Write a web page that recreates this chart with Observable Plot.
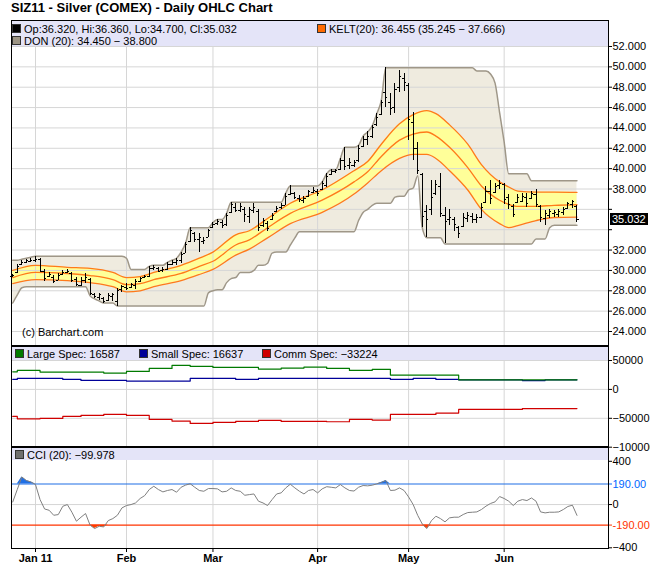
<!DOCTYPE html>
<html><head><meta charset="utf-8">
<script src="https://cdn.jsdelivr.net/npm/d3@7"></script>
<script src="https://cdn.jsdelivr.net/npm/@observablehq/plot@0.6"></script>
<style>
body{margin:0;background:#fff;}
#root{position:relative;width:650px;height:588px;overflow:hidden;background:#fff;font-family:"Liberation Sans",Arial,sans-serif;font-size:11px;color:#000;}
.layer{position:absolute;left:0;}
.band{position:absolute;left:12px;width:596px;background:#e4e4f8;z-index:2;}
.leg{position:absolute;font-size:11px;line-height:12px;white-space:nowrap;z-index:3;}
.sq{display:inline-block;width:7px;height:7px;border:1px solid #333;margin-right:3px;}
.sep{position:absolute;left:11px;width:598px;background:#000;z-index:4;}
</style></head><body>
<div id="root">
  <div class="leg" style="left:11px;top:1px;font-size:13px;line-height:13px;font-weight:bold;">SIZ11 - Silver (COMEX) - Daily OHLC Chart</div>
  <div class="band" style="top:21px;height:25px;"></div>
  <div class="leg" id="legOHLC" style="left:12px;top:23px;"></div>
  <div class="leg" id="legKELT" style="left:317px;top:23px;"></div>
  <div class="leg" id="legDON" style="left:12px;top:35px;"></div>
  <div class="leg" style="left:22px;top:326px;">(c) Barchart.com</div>
  <div class="sep" style="top:345px;height:2px;"></div>
  <div class="band" style="top:347px;height:13px;"></div>
  <div class="leg" id="legCOT" style="left:15px;top:348px;"></div>
  <div class="sep" style="top:446px;height:2px;"></div>
  <div class="band" style="top:448px;height:12px;"></div>
  <div class="leg" id="legCCI" style="left:15px;top:449px;"></div>
</div>
<script>
// ---------- data ----------
const startIndex = -5; // first bar = Dec 27 2010, index 0 = Jan 3 2011 (trading-day index)
const opens = [
 29.4, 29.8, 30.6, 30.8, 30.9, 31.0, 31.1, 29.9, 29.4, 29.3,
 29.0, 29.6, 29.8, 29.7, 29.1, 28.5, 29.0, 29.1, 27.6, 27.3,
 27.2, 27.0, 27.4, 26.9, 28.1, 28.3, 28.3, 28.5, 28.9, 29.3,
 29.4, 30.2, 30.2, 30.0, 30.1, 30.6, 30.8, 31.0, 31.7, 32.8,
 33.6, 33.0, 32.8, 33.2, 34.2, 34.6, 34.7, 34.5, 35.7, 36.2,
 35.9, 36.0, 35.3, 35.9, 35.8, 34.4, 34.6, 35.0, 35.8, 36.2,
 36.4, 37.5, 37.6, 37.1, 36.9, 37.3, 37.7, 37.8, 38.0, 38.3,
 39.4, 39.7, 39.9, 40.8, 40.3, 40.3, 40.8, 42.2, 42.9, 43.2,
 44.3, 45.3, 47.5, 46.5, 46.0, 48.0, 48.9, 48.2, 44.5, 42.0,
 39.4, 35.8, 36.0, 37.6, 38.2, 35.4, 35.0, 35.0, 34.2, 34.3,
 35.1, 35.3, 35.0, 35.2, 36.7, 37.8, 37.7, 38.3, 38.4, 37.2,
 36.3, 36.7, 36.8, 37.2, 37.1, 37.5, 36.3, 35.1, 35.4, 35.6,
 35.5, 35.7, 36.1, 36.5, 36.32
];
const highs = [
 29.6, 30.6, 31.0, 31.1, 31.2, 31.4, 31.2, 30.1, 29.8, 29.5,
 29.7, 30.0, 30.1, 29.8, 29.3, 29.3, 29.7, 29.2, 27.7, 27.7,
 27.3, 27.7, 27.7, 28.2, 28.5, 28.7, 28.7, 29.1, 29.3, 29.5,
 30.4, 30.5, 30.3, 30.3, 30.8, 31.0, 31.2, 31.8, 32.7, 34.2,
 33.7, 33.6, 33.2, 34.0, 34.7, 35.0, 34.9, 35.6, 36.7, 36.6,
 36.6, 36.2, 36.2, 36.6, 36.0, 35.1, 34.8, 35.6, 36.3, 36.6,
 37.6, 38.3, 37.7, 37.4, 37.3, 37.9, 38.1, 38.0, 38.7, 39.5,
 39.9, 39.9, 41.0, 42.1, 41.0, 40.8, 42.3, 43.2, 43.6, 44.2,
 45.4, 46.7, 49.9, 47.4, 48.4, 49.6, 49.3, 48.4, 45.5, 42.6,
 39.5, 36.4, 38.8, 38.8, 39.5, 36.2, 36.0, 35.2, 34.3, 35.6,
 35.7, 35.6, 35.5, 36.6, 38.2, 38.8, 38.5, 38.8, 38.5, 37.5,
 36.5, 37.5, 37.6, 37.6, 37.8, 38.0, 36.4, 35.9, 36.0, 35.9,
 36.0, 36.2, 36.7, 36.9, 36.36
];
const lows = [
 29.3, 29.7, 30.5, 30.7, 30.8, 30.8, 29.8, 28.9, 29.3, 28.7,
 29.0, 29.5, 29.7, 28.8, 28.4, 28.4, 28.7, 27.5, 27.2, 27.0,
 26.8, 26.9, 26.9, 26.5, 27.8, 28.0, 28.2, 28.1, 28.8, 29.2,
 29.3, 30.0, 29.8, 29.8, 30.0, 30.5, 30.5, 30.7, 31.7, 32.7,
 32.7, 31.8, 32.5, 33.2, 34.1, 34.4, 34.1, 34.3, 35.6, 35.7,
 35.7, 34.7, 34.6, 35.6, 33.8, 34.2, 33.8, 34.9, 35.7, 36.0,
 36.4, 37.4, 37.0, 36.7, 36.6, 37.2, 37.6, 37.3, 37.9, 38.1,
 39.3, 39.5, 39.8, 39.8, 39.9, 40.1, 40.6, 42.1, 42.3, 43.0,
 44.1, 45.2, 46.0, 45.2, 45.4, 47.5, 47.6, 42.8, 40.8, 39.4,
 34.2, 33.2, 35.4, 37.4, 35.2, 32.6, 34.4, 33.8, 33.1, 34.2,
 34.7, 34.6, 34.6, 35.1, 36.6, 36.5, 37.6, 38.0, 36.5, 36.0,
 35.2, 36.6, 36.7, 36.2, 37.0, 36.2, 34.7, 34.45, 35.1, 35.2,
 35.2, 35.4, 36.0, 36.1, 34.70
];
const closes = [
 29.5, 30.4, 30.8, 31.0, 31.0, 31.1, 29.9, 29.2, 29.6, 28.9,
 29.5, 29.8, 29.9, 29.0, 28.6, 29.0, 29.3, 27.7, 27.4, 27.6,
 26.9, 27.5, 27.6, 28.0, 28.4, 28.2, 28.6, 28.9, 29.2, 29.4,
 30.2, 30.3, 29.9, 30.1, 30.6, 30.8, 31.0, 31.6, 32.5, 33.9,
 33.0, 33.2, 32.9, 33.9, 34.5, 34.8, 34.4, 35.4, 36.5, 35.9,
 36.3, 35.5, 36.0, 36.2, 34.2, 34.9, 34.1, 35.4, 36.1, 36.4,
 37.3, 37.6, 37.2, 37.0, 37.1, 37.8, 37.9, 37.6, 38.5, 39.2,
 39.7, 39.8, 40.8, 40.2, 40.6, 40.6, 42.0, 42.9, 43.2, 44.0,
 45.0, 46.5, 47.0, 45.9, 47.8, 49.1, 48.5, 44.8, 42.0, 39.8,
 35.3, 35.0, 37.2, 38.4, 35.6, 34.8, 35.2, 34.5, 33.6, 35.2,
 35.4, 35.0, 35.2, 36.2, 37.8, 37.1, 38.2, 38.5, 37.0, 36.5,
 35.5, 37.2, 37.3, 36.6, 37.6, 36.5, 35.2, 35.6, 35.8, 35.7,
 35.8, 36.0, 36.6, 36.8, 35.032
];
const donUpper = [
 31.0, 31.0, 31.1, 31.2, 31.3, 31.4, 31.4, 31.4, 31.4, 31.4,
 31.4, 31.4, 31.4, 31.4, 31.4, 31.4, 31.4, 31.4, 31.4, 31.4,
 31.4, 31.4, 31.4, 31.4, 31.4, 31.2, 30.1, 30.1, 30.1, 30.1,
 30.4, 30.5, 30.5, 30.5, 30.8, 31.0, 31.2, 31.8, 32.7, 34.2,
 34.2, 34.2, 34.2, 34.2, 34.7, 35.0, 35.0, 35.6, 36.7, 36.7,
 36.7, 36.7, 36.7, 36.7, 36.7, 36.7, 36.7, 36.7, 36.7, 36.7,
 37.6, 38.3, 38.3, 38.3, 38.3, 38.3, 38.3, 38.3, 38.7, 39.5,
 39.9, 39.9, 41.0, 42.1, 42.1, 42.1, 42.3, 43.2, 43.6, 44.2,
 45.4, 46.7, 49.9, 49.9, 49.9, 49.9, 49.9, 49.9, 49.9, 49.9,
 49.9, 49.9, 49.9, 49.9, 49.9, 49.9, 49.9, 49.9, 49.9, 49.9,
 49.9, 49.9, 49.6, 49.6, 49.6, 49.3, 48.4, 45.5, 42.6, 39.5,
 39.5, 39.5, 39.5, 39.5, 38.8, 38.8, 38.8, 38.8, 38.8, 38.8,
 38.8, 38.8, 38.8, 38.8, 38.8
];
const donLower = [
 26.8, 27.6, 28.3, 28.4, 28.4, 28.4, 28.4, 28.4, 28.4, 28.4,
 28.4, 28.4, 28.4, 28.4, 28.4, 28.4, 28.4, 27.5, 27.2, 27.0,
 26.8, 26.8, 26.8, 26.5, 26.5, 26.5, 26.5, 26.5, 26.5, 26.5,
 26.5, 26.5, 26.5, 26.5, 26.5, 26.5, 26.5, 26.5, 26.5, 26.5,
 26.5, 26.5, 26.5, 27.8, 28.0, 28.1, 28.1, 28.8, 29.2, 29.3,
 29.8, 29.8, 29.8, 30.0, 30.5, 30.5, 30.7, 31.7, 31.8, 31.8,
 31.8, 32.5, 33.2, 33.8, 33.8, 33.8, 33.8, 33.8, 33.8, 33.8,
 33.8, 33.8, 33.8, 33.8, 33.8, 33.8, 34.9, 35.7, 36.0, 36.4,
 36.6, 36.6, 36.6, 36.6, 37.2, 37.3, 37.3, 37.9, 38.1, 39.3,
 34.2, 33.2, 33.2, 33.2, 33.2, 32.6, 32.6, 32.6, 32.6, 32.6,
 32.6, 32.6, 32.6, 32.6, 32.6, 32.6, 32.6, 32.6, 32.6, 32.6,
 32.6, 32.6, 32.6, 32.6, 32.6, 33.1, 33.1, 33.1, 34.2, 34.45,
 34.45, 34.45, 34.45, 34.45, 34.45
];
const keltIdx   = [-5, 0, 7, 12, 17, 20, 23, 26, 32, 36, 39, 44, 47, 51, 56, 63, 70, 73, 76, 80, 83, 86, 88, 91, 95, 98, 102, 104, 106, 110, 114, 119];
const keltLower = [28.7, 29.1, 29.0, 28.8, 28.4, 27.9, 28.0, 28.4, 29.0, 29.6, 30.1, 31.5, 32.1, 33.2, 34.6, 35.7, 37.5, 38.6, 39.8, 41.0, 41.4, 41.4, 41.0, 39.8, 37.9, 36.0, 34.6, 34.2, 34.4, 34.9, 35.2, 35.245];
const keltMid   = [29.3, 29.8, 29.7, 29.5, 29.1, 28.6, 28.7, 29.1, 29.7, 30.4, 30.9, 32.5, 33.0, 34.2, 35.6, 36.9, 38.7, 39.7, 41.2, 42.8, 43.4, 43.6, 43.2, 42.1, 40.1, 38.3, 36.9, 36.5, 36.3, 36.3, 36.4, 36.455];
const keltUpper = [30.0, 30.5, 30.3, 30.2, 29.8, 29.3, 29.4, 29.8, 30.5, 31.2, 31.8, 33.5, 33.9, 35.1, 36.6, 37.9, 39.8, 40.7, 42.4, 44.4, 45.3, 45.7, 45.4, 44.3, 42.4, 40.4, 38.7, 38.2, 37.8, 37.7, 37.7, 37.666];

const cotIdx    = [-5, -4, 1, 6, 10, 15, 20, 25, 30, 34, 39, 44, 49, 54, 59, 64, 69, 74, 78, 83, 88, 93, 98, 103, 107, 112, 119];
const largeSpec = [30400, 32900, 29900, 29900, 29900, 28200, 31100, 36300, 41500, 39800, 38100, 38100, 35100, 36900, 38600, 36300, 32900, 34600, 24700, 24700, 24700, 16600, 16600, 16600, 16600, 16600, 16587];
const smallSpec = [17300, 19000, 19000, 17300, 15600, 15600, 14400, 14400, 14400, 19000, 19000, 17300, 19000, 19000, 19000, 19000, 19000, 19000, 17300, 19000, 17300, 16600, 16600, 16600, 15300, 16637, 16637];
const commSpec  = [-46700, -50900, -50300, -46700, -45000, -43300, -45000, -51900, -54800, -58800, -57100, -55400, -53600, -55400, -55400, -56000, -51900, -53100, -43300, -43300, -41000, -34600, -34600, -34600, -33224, -33224, -33224];

const cciValues = [
 24, 140, 255, 222, 209, 185, 46, -41, -53, -99,
 -93, -16, 0, -71, -154, -117, -83, -191, -222, -201,
 -207, -148, -130, -99, -31, -9, 0, 15, 56, 83,
 139, 169, 139, 117, 130, 139, 114, 160, 180, 192,
 160, 130, 123, 148, 148, 145, 117, 123, 154, 130,
 123, 86, 92, 98, 31, 15, -9, 46, 98, 108,
 154, 188, 154, 123, 98, 130, 139, 108, 145, 165,
 160, 154, 185, 154, 130, 125, 160, 176, 173, 179,
 191, 205, 222, 130, 133, 154, 130, 70, 0, -100,
 -180, -222, -150, -108, -130, -160, -123, -117, -117, -92,
 -74, -71, -68, -46, -15, 10, 25, 74, 56, 31,
 -9, 31, 46, 37, 61, 31, -68, -77, -71, -71,
 -68, -46, -18, -6, -99.978
];

const monthTicks  = [0, 20, 39, 62, 82, 103];
const monthLabels = ["Jan 11", "Feb", "Mar", "Apr", "May", "Jun"];
const priceTicks  = [24, 26, 28, 30, 32, 34, 36, 38, 40, 42, 44, 46, 48, 50, 52];
const cotTicks    = [50000, 0, -50000, -100000];
const cciTicks    = [400, 0, -400];
const cciLevels   = [190, -190];

// ---------- tables ----------
const bars = opens.map((o, k) => ({
  i: startIndex + k, open: o, high: highs[k], low: lows[k], close: closes[k],
  donHi: donUpper[k], donLo: donLower[k], cci: cciValues[k]
}));
const kelt = keltIdx.map((i, k) => ({i, lo: keltLower[k], mid: keltMid[k], hi: keltUpper[k]}));
const cot = cotIdx.map((i, k) => ({i, large: largeSpec[k], small: smallSpec[k], comm: commSpec[k]}));
const last = bars[bars.length - 1];
const lastK = kelt[kelt.length - 1];
const lastC = cot[cot.length - 1];

// ---------- legends ----------
const sq = c => `<span class="sq" style="background:${c}"></span>`;
const f3 = v => v.toFixed(3);
document.getElementById("legOHLC").innerHTML = sq("#000") + `Op:${f3(last.open)}, Hi:${f3(last.high)}, Lo:${f3(last.low)}, Cl:${f3(last.close)}`;
document.getElementById("legKELT").innerHTML = sq("#ff6a00") + `KELT(20): ${f3(lastK.mid)} (${f3(lastK.lo)} − ${f3(lastK.hi)})`;
document.getElementById("legDON").innerHTML = sq("#9c9484") + `DON (20): ${f3(last.donLo)} − ${f3(last.donHi)}`;
document.getElementById("legCOT").innerHTML =
  sq("#007a00") + `Large Spec: ${lastC.large}` +
  `<span style="position:absolute;left:124px">${sq("#000099")}Small Spec: ${lastC.small}</span>` +
  `<span style="position:absolute;left:247px">${sq("#d00000")}Comm Spec: ${String(lastC.comm).replace("-", "−")}</span>`;
document.getElementById("legCCI").innerHTML = sq("#6e6e6e") + `CCI (20): ${String(last.cci.toFixed(3)).replace("-", "−")}`;

// ---------- plots ----------
const font = '"Liberation Sans", Arial, sans-serif';
const common = {
  width: 650, marginLeft: 11, marginRight: 42,
  style: {background: "transparent", fontFamily: font, fontSize: "11px", overflow: "visible", color: "#000"},
  x: {domain: [-5.275, 125.93], axis: null}
};
const grid = "#d6d6d6";
const root = document.getElementById("root");
function place(svg, top, z) {
  const d = document.createElement("div");
  d.className = "layer";
  d.style.top = top + "px";
  d.style.zIndex = z;
  d.appendChild(svg);
  root.appendChild(d);
}

const pricePlot = Plot.plot({
  ...common, height: 325, marginTop: 0, marginBottom: 0,
  y: {domain: [22.625, 54.554], axis: null},
  marks: [
    Plot.areaY(bars, {x: "i", y1: "donLo", y2: "donHi", fill: "#efebdf", curve: "monotone-x"}),
    Plot.areaY(kelt, {x: "i", y1: "lo", y2: "hi", fill: "#ffff99", curve: "monotone-x"}),
    Plot.gridX(monthTicks, {stroke: grid, strokeOpacity: 1}),
    Plot.gridY(priceTicks, {stroke: grid, strokeOpacity: 1}),
    Plot.line(bars, {x: "i", y: "donHi", stroke: "#9f9788", curve: "monotone-x"}),
    Plot.line(bars, {x: "i", y: "donLo", stroke: "#9f9788", curve: "monotone-x"}),
    Plot.line(kelt, {x: "i", y: "hi", stroke: "#ff7a1a", strokeWidth: 1.3, curve: "monotone-x"}),
    Plot.line(kelt, {x: "i", y: "mid", stroke: "#ff7a1a", strokeWidth: 1.3, curve: "monotone-x"}),
    Plot.line(kelt, {x: "i", y: "lo", stroke: "#ff7a1a", strokeWidth: 1.3, curve: "monotone-x"}),
    Plot.ruleX(bars, {x: "i", y1: "low", y2: "high", stroke: "#000", shapeRendering: "crispEdges"}),
    Plot.ruleY(bars, {y: "open", x1: d => d.i - 0.45, x2: "i", stroke: "#000", shapeRendering: "crispEdges"}),
    Plot.ruleY(bars, {y: "close", x1: "i", x2: d => d.i + 0.45, stroke: "#000", shapeRendering: "crispEdges"}),
    Plot.frame({stroke: "#000"}),
    Plot.axisY({ticks: priceTicks, anchor: "right", tickSize: 3, tickPadding: 1, label: null,
      tickFormat: d => Math.abs(d - last.close) < 1.5 ? "" : d.toFixed(3)})
  ]
});
place(pricePlot, 20, 1);

const cotPlot = Plot.plot({
  ...common, height: 101, marginTop: 0, marginBottom: 0,
  y: {domain: [-102249, 72491], axis: null},
  marks: [
    Plot.gridX(monthTicks, {stroke: grid, strokeOpacity: 1}),
    Plot.gridY(cotTicks, {stroke: grid, strokeOpacity: 1}),
    Plot.line(cot, {x: "i", y: "small", stroke: "#000099", strokeWidth: 1.2, curve: "step-after"}),
    Plot.line(cot, {x: "i", y: "large", stroke: "#007a00", strokeWidth: 1.2, curve: "step-after"}),
    Plot.line(cot, {x: "i", y: "comm", stroke: "#d00000", strokeWidth: 1.2, curve: "step-after"}),
    Plot.frame({stroke: "#000"}),
    Plot.axisY({ticks: cotTicks, anchor: "right", tickSize: 3, tickPadding: 1, label: null, tickFormat: d3.format("d")})
  ]
});
place(cotPlot, 347, 1);

const cciPlot = Plot.plot({
  ...common, height: 140, marginTop: 0, marginBottom: 40,
  y: {domain: [-406.5, 518.4], axis: null},
  marks: [
    Plot.gridX(monthTicks, {stroke: grid, strokeOpacity: 1}),
    Plot.gridY([0], {stroke: grid, strokeOpacity: 1}),
    Plot.areaY(bars, {x: "i", y1: cciLevels[0], y2: d => Math.max(d.cci, cciLevels[0]), fill: "#1f6fe5"}),
    Plot.areaY(bars, {x: "i", y1: cciLevels[1], y2: d => Math.min(d.cci, cciLevels[1]), fill: "#ff4000"}),
    Plot.ruleY([cciLevels[0]], {stroke: "#1f6fe5", strokeWidth: 1.2}),
    Plot.ruleY([cciLevels[1]], {stroke: "#ff3300", strokeWidth: 1.2}),
    Plot.line(bars, {x: "i", y: "cci", stroke: "#808080", strokeWidth: 1}),
    Plot.frame({stroke: "#000"}),
    Plot.axisY({ticks: cciTicks, anchor: "right", tickSize: 3, tickPadding: 1, label: null, tickFormat: d3.format("d")}),
    Plot.axisY({ticks: [cciLevels[0]], anchor: "right", tickSize: 3, tickPadding: 1, label: null,
      tickFormat: d => d.toFixed(2), color: "#0066ff", fill: "#0066ff"}),
    Plot.axisY({ticks: [cciLevels[1]], anchor: "right", tickSize: 3, tickPadding: 1, label: null,
      tickFormat: d => d.toFixed(2), color: "#ff3300", fill: "#ff3300"}),
    Plot.axisX({ticks: monthTicks, anchor: "bottom", tickSize: 4, tickPadding: 2, label: null,
      fontWeight: "bold", tickFormat: d => monthLabels[monthTicks.indexOf(d)]})
  ]
});
place(cciPlot, 448, 1);

// last-price tag on the right axis
const yPix = pricePlot.scale("y").apply(last.close) + 20;
const tag = document.createElement("div");
tag.className = "leg";
tag.style.cssText = `left:610px;top:${(yPix - 6).toFixed(1)}px;height:12px;line-height:12px;padding:0 2px;background:#000;color:#fff;z-index:5;`;
tag.textContent = last.close.toFixed(3);
root.appendChild(tag);
</script>
</body></html>
